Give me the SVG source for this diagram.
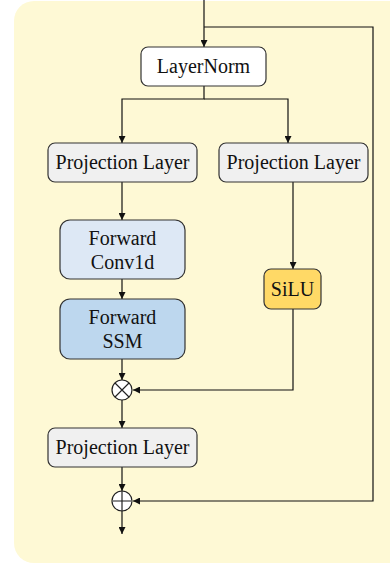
<svg xmlns="http://www.w3.org/2000/svg" width="390" height="566" viewBox="0 0 390 566">
  <style>
    .box { stroke: #333; stroke-width: 1.2; }
    .lbl { font-family: "Liberation Serif", "Times New Roman", serif; font-size: 20px; fill: #111; text-anchor: middle; }
    .wire { fill: none; stroke: #111; stroke-width: 1.2; }
    .op { fill: #fff; stroke: #222; stroke-width: 1.2; }
  </style>
  <defs>
    <marker id="arrow" viewBox="0 0 10 10" refX="10" refY="5" markerWidth="7" markerHeight="7" markerUnits="userSpaceOnUse" orient="auto">
      <path d="M0,0 L10,5 L0,10 z" fill="#111"/>
    </marker>
  </defs>

  <!-- block background -->
  <rect x="14" y="1" width="400" height="562" rx="20" ry="20" fill="#FEF9D5"/>

  <!-- connectors -->
  <g id="connectors">
    <path class="wire" d="M204,0 V47" marker-end="url(#arrow)"/>
    <path class="wire" d="M204,27 H373 V501 H133" marker-end="url(#arrow)"/>
    <path class="wire" d="M204,86 V99 H122 V143" marker-end="url(#arrow)"/>
    <path class="wire" d="M204,99 H288 V143" marker-end="url(#arrow)"/>
    <path class="wire" d="M122,182 V220" marker-end="url(#arrow)"/>
    <path class="wire" d="M122,279 V299" marker-end="url(#arrow)"/>
    <path class="wire" d="M293,182 V269" marker-end="url(#arrow)"/>
    <path class="wire" d="M122,359 V380" marker-end="url(#arrow)"/>
    <path class="wire" d="M293,309 V390 H133" marker-end="url(#arrow)"/>
    <path class="wire" d="M122,400 V428" marker-end="url(#arrow)"/>
    <path class="wire" d="M122,467 V491" marker-end="url(#arrow)"/>
    <path class="wire" d="M122,511 V534" marker-end="url(#arrow)"/>
  </g>

  <g id="layernorm">
    <rect class="box" x="141" y="47" width="125" height="39" rx="7" fill="#FFFFFF"/>
    <text class="lbl" x="203.5" y="73">LayerNorm</text>
  </g>

  <g id="proj-left">
    <rect class="box" x="48" y="143" width="149" height="39" rx="7" fill="#F0F0F0"/>
    <text class="lbl" x="122.5" y="169">Projection Layer</text>
  </g>

  <g id="proj-right">
    <rect class="box" x="219" y="143" width="149" height="39" rx="7" fill="#F0F0F0"/>
    <text class="lbl" x="293.5" y="169">Projection Layer</text>
  </g>

  <g id="conv1d">
    <rect class="box" x="60" y="220" width="125" height="59" rx="10" fill="#DDE8F5"/>
    <text class="lbl" x="122.5" y="245">Forward</text>
    <text class="lbl" x="122.5" y="269">Conv1d</text>
  </g>

  <g id="ssm">
    <rect class="box" x="60" y="299" width="125" height="60" rx="10" fill="#BDD7EE"/>
    <text class="lbl" x="122.5" y="324">Forward</text>
    <text class="lbl" x="122.5" y="348">SSM</text>
  </g>

  <g id="silu">
    <rect class="box" x="264" y="269" width="57" height="40" rx="7" fill="#FFD966"/>
    <text class="lbl" x="292.5" y="296">SiLU</text>
  </g>

  <g id="multiply">
    <circle class="op" cx="122" cy="390" r="10"/>
    <path d="M115,383 L129,397 M129,383 L115,397" stroke="#222" stroke-width="1.2"/>
  </g>

  <g id="proj-out">
    <rect class="box" x="48" y="428" width="149" height="39" rx="7" fill="#F0F0F0"/>
    <text class="lbl" x="122.5" y="454">Projection Layer</text>
  </g>

  <g id="add">
    <circle class="op" cx="122" cy="501" r="10"/>
    <path d="M112,501 H132" stroke="#666" stroke-width="1.5"/>
    <path d="M122,491 V511" stroke="#222" stroke-width="1.2"/>
  </g>
</svg>
